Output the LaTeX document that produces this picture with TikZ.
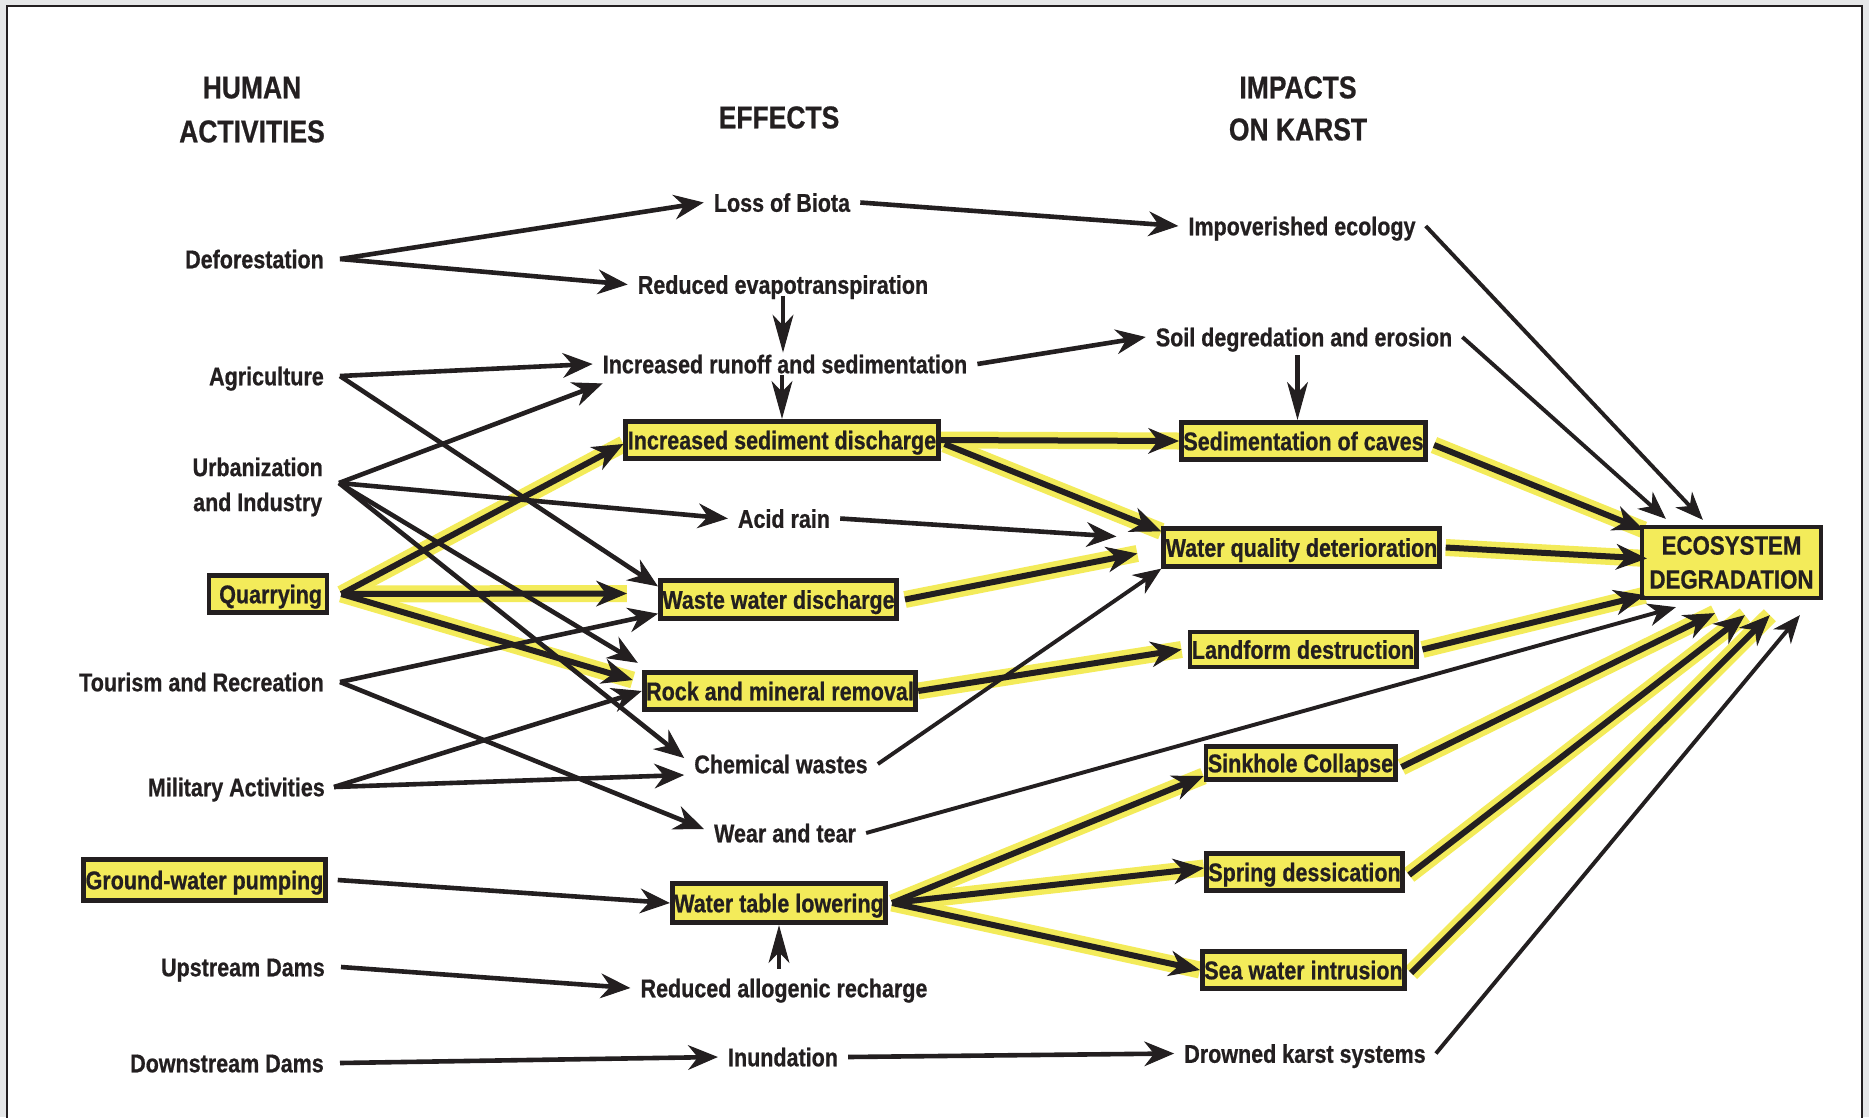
\documentclass[tikz,border=0pt]{standalone}
\usepackage{fontspec}
\newfontfamily\labfont{Liberation Sans}[FakeStretch=0.84,FakeBold=0.7]
\usetikzlibrary{arrows.meta,calc}
\definecolor{ink}{RGB}{35,31,32}
\definecolor{hl}{RGB}{243,235,90}
\definecolor{pagegray}{RGB}{230,231,232}
\pgfdeclarelayer{bgzero}
\pgfdeclarelayer{glowlayer}
\pgfsetlayers{bgzero,glowlayer,main}
\newcommand{\hledge}[2]{%
  \begin{pgfonlayer}{glowlayer}\draw[glow] #1 -- #2;\end{pgfonlayer}%
  \draw[thickarr] #1 -- #2;}
\begin{document}
\begin{tikzpicture}[x=1pt,y=-1pt,
  lbl/.style={font=\labfont\bfseries\fontsize{25.6pt}{30pt}\selectfont, text=ink,
    inner xsep=10pt, inner ysep=2pt, text height=18.5pt, text depth=0pt},
  lft/.style={lbl, anchor=east, inner xsep=16pt},
  hdr/.style={font=\labfont\bfseries\fontsize{31.5pt}{40pt}\selectfont, text=ink,
    inner sep=0pt, text height=22.6pt, text depth=0pt},
  kbox/.style={lbl, draw=ink, fill=hl, line width=4.8pt, inner xsep=2pt, minimum height=37.5pt},
  arr/.style={draw=ink, line width=4.6pt, -{Stealth[length=30pt,width=25pt,inset=10pt,line width=1pt]}},
  thickarr/.style={draw=ink, line width=6pt, -{Stealth[length=31pt,width=26pt,inset=10pt,line width=1pt]}},
  thinarr/.style={draw=ink, line width=3.9pt, -{Stealth[length=28pt,width=23pt,inset=9pt,line width=1pt]}},
  vertarr/.style={draw=ink, line width=4.4pt, -{Stealth[length=38pt,width=21pt,inset=11pt,line width=1pt]}},
  glow/.style={draw=hl, line width=17pt},
]
\useasboundingbox (0,0) rectangle (1869,1117);
\begin{pgfonlayer}{bgzero}
\fill[pagegray] (0,0) rectangle (1869,1117);
\draw[ink, line width=2.6pt, fill=white] (7,6) rectangle (1862,1140);
\end{pgfonlayer}

% headers
\node[hdr] (h1a) at (252,87) {HUMAN};
\node[hdr] (h1b) at (252,131) {ACTIVITIES};
\node[hdr] (h2) at (779,117) {EFFECTS};
\node[hdr] (h3a) at (1298,87) {IMPACTS};
\node[hdr] (h3b) at (1298,129) {ON KARST};

% human activities
\node[lft] (defo) at (340,259) {Deforestation};
\node[lft] (agri) at (340,376) {Agriculture};
\node[lft, align=center, text height=, text depth=,
  font=\labfont\bfseries\fontsize{25.6pt}{35pt}\selectfont] (urb) at (339,487) {Urbanization\\and Industry};
\node[kbox, text width=108pt, align=right, inner xsep=5pt] (quar) at (268,594) {Quarrying};
\node[lft] (tour) at (340,682) {Tourism and Recreation};
\node[lft] (mil) at (341,787) {Military Activities};
\node[kbox, minimum height=40.5pt] (gwp) at (204.5,880) {Ground-water pumping};
\node[lft] (up) at (341,967) {Upstream Dams};
\node[lft] (down) at (340,1063) {Downstream Dams};

% effects
\node[lbl] (loss) at (782,202.5) {Loss of Biota};
\node[lbl] (rev) at (783,284.5) {Reduced evapotranspiration};
\node[lbl] (iro) at (785,364) {Increased runoff and sedimentation};
\node[kbox] (isd) at (782,440) {Increased sediment discharge};
\node[lbl] (acid) at (784,518.5) {Acid rain};
\node[kbox] (wwd) at (778.5,599.5) {Waste water discharge};
\node[kbox] (rmr) at (780,691) {Rock and mineral removal};
\node[lbl] (chem) at (781,764) {Chemical wastes};
\node[lbl] (wat) at (785,833) {Wear and tear};
\node[kbox, minimum height=39.5pt] (wtl) at (779,903) {Water table lowering};
\node[lbl] (rar) at (784,988) {Reduced allogenic recharge};
\node[lbl] (inun) at (783,1057) {Inundation};

% impacts on karst
\node[lbl] (imp) at (1302,226) {Impoverished ecology};
\node[lbl] (soil) at (1304,337) {Soil degredation and erosion};
\node[kbox] (soc) at (1303.5,441) {Sedimentation of caves};
\node[kbox] (wqd) at (1301.5,547.5) {Water quality deterioration};
\node[kbox, minimum height=35pt] (lfd) at (1303,649.5) {Landform destruction};
\node[kbox, minimum height=33pt] (sink) at (1300.5,763) {Sinkhole Collapse};
\node[kbox] (spr) at (1304.5,872) {Spring dessication};
\node[kbox] (sea) at (1303.5,970) {Sea water intrusion};
\node[lbl] (drk) at (1305,1053.5) {Drowned karst systems};

\node[kbox, line width=3.8pt, minimum width=179.5pt, minimum height=71.5pt, align=center,
  text height=, text depth=, font=\labfont\bfseries\fontsize{26.5pt}{34pt}\selectfont]
  (eco) at (1731.5,562.5) {ECOSYSTEM\\DEGRADATION};

% ---- human activities -> effects
\draw[arr] (defo.east) -- (loss.west);
\draw[arr] (defo.east) -- (rev.west);
\draw[arr] (agri.east) -- (iro.west);
\draw[arr] (agri.east) -- ([yshift=-8pt]wwd.north west);
\draw[arr] ([yshift=4pt]urb.east) -- ([xshift=10pt,yshift=-8pt]iro.south west);
\draw[arr] ([yshift=4pt]urb.east) -- (acid.west);
\draw[arr] ([yshift=4pt]urb.east) -- ([xshift=-4pt,yshift=7pt]rmr.north west);
\draw[arr] ([yshift=4pt]urb.east) -- ([yshift=6pt]chem.west);
\hledge{([xshift=12pt]quar.east)}{([yshift=-4pt]isd.west)}
\hledge{([xshift=12pt]quar.east)}{([xshift=-31pt,yshift=6pt]wwd.west)}
\hledge{([xshift=12pt]quar.east)}{([xshift=-9pt,yshift=11pt]rmr.west)}
\draw[arr] (tour.east) -- ([yshift=7pt]wwd.south west);
\draw[arr] (tour.east) -- ([yshift=4pt]wat.west);
\draw[arr] ([xshift=-7pt]mil.east) -- (rmr.west);
\draw[arr] ([xshift=-7pt]mil.east) -- ([yshift=-11pt]chem.west);
\draw[arr] ([xshift=10pt]gwp.east) -- (wtl.west);
\draw[arr] (up.east) -- (rar.west);
\draw[arr] (down.east) -- (inun.west);

% ---- vertical links
\draw[vertarr] (rev.south) -- (rev.south |- iro.north);
\draw[vertarr] (iro.south -| isd.north) -- (isd.north);
\draw[vertarr] ($(soil.south -| soc.north)+(-6,7)$) -- ($(soc.north)+(-6,0)$);
\draw[vertarr] ($(rar.north -| wtl.south)+(0,-8)$) -- (wtl.south);

% ---- effects -> impacts
\draw[arr] (loss.east) -- (imp.west);
\draw[arr] (iro.east) -- (soil.west);
\hledge{(isd.east)}{(soc.west)}
\hledge{([xshift=4pt,yshift=-4pt]isd.east)}{([yshift=-5pt]wqd.north west)}
\draw[arr] (acid.east) -- ([xshift=-45pt,yshift=11pt]wqd.west);
\hledge{([xshift=6pt]wwd.east)}{([xshift=-24pt,yshift=-6pt]wqd.west)}
\draw[thinarr] (chem.east) -- (wqd.south west);
\hledge{(rmr.east)}{([xshift=-6pt]lfd.west)}
\draw[thinarr] (wat.east) -- ([xshift=36pt,yshift=-7pt]eco.south west);
\hledge{([xshift=4pt]wtl.east)}{([yshift=-13pt]sink.west)}
\hledge{([xshift=4pt]wtl.east)}{([yshift=4pt]spr.west)}
\hledge{([xshift=4pt]wtl.east)}{(sea.west)}
\draw[arr] (inun.east) -- (drk.west);

% ---- impacts -> ecosystem degradation
\draw[thinarr] (imp.east) -- ([xshift=63pt,yshift=5pt]eco.north west);
\draw[thinarr] (soil.east) -- ([xshift=26pt,yshift=6pt]eco.north west);
\hledge{([xshift=6pt,yshift=-4pt]soc.east)}{([xshift=4pt,yshift=-5pt]eco.north west)}
\hledge{([xshift=4pt]wqd.east)}{([xshift=7pt,yshift=4pt]eco.west)}
\hledge{([xshift=4pt]lfd.east)}{([xshift=5pt,yshift=5pt]eco.south west)}
\hledge{([xshift=4pt,yshift=-4pt]sink.east)}{([xshift=75pt,yshift=-13pt]eco.south west)}
\hledge{([xshift=4pt,yshift=-3pt]spr.east)}{([xshift=105pt,yshift=-15pt]eco.south west)}
\hledge{([xshift=4pt,yshift=-3pt]sea.east)}{([xshift=130pt,yshift=-15pt]eco.south west)}
\draw[thinarr] (drk.east) -- ([xshift=160pt,yshift=-15pt]eco.south west);
\end{tikzpicture}
\end{document}
